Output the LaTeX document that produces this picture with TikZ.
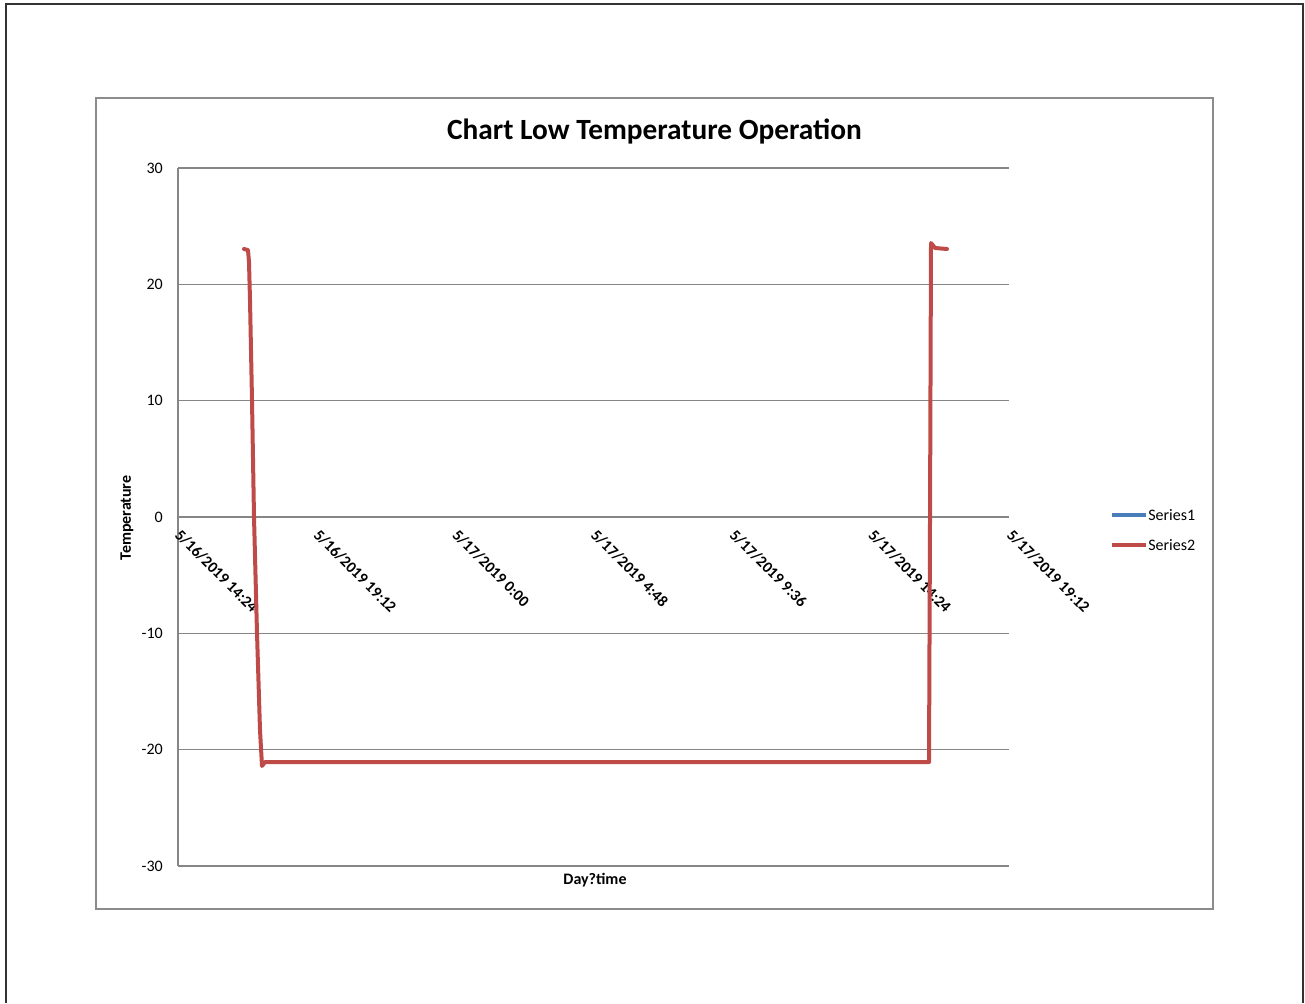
\documentclass[tikz,border=0pt]{standalone}
\usepackage{fontspec}
\setmainfont{Carlito}
\usetikzlibrary{positioning}
\definecolor{gridgray}{RGB}{134,134,134}
\definecolor{framegray}{RGB}{140,140,140}
\definecolor{seriesblue}{RGB}{74,126,187}
\definecolor{seriesred}{RGB}{190,75,72}
\tikzset{
  gridline/.style={draw=gridgray, line width=1.1pt},
  chartframe/.style={draw=framegray, line width=1.5pt},
  ticklabel/.style={font=\fontsize{12}{14}\selectfont, inner sep=0pt},
  datelabel/.style={font=\bfseries\fontsize{11.8}{14}\selectfont, inner sep=0pt, anchor=north west, rotate=-45},
  axistitle/.style={font=\bfseries\fontsize{12}{14}\selectfont, inner sep=0pt},
  seriesline/.style={line width=3pt, line cap=round, line join=round}
}

\begin{document}
\begin{tikzpicture}[x=0.75pt,y=-0.75pt]
\useasboundingbox (0,0) rectangle (1305,1003);
% page frame, open at the bottom
\draw[draw=black!80, line width=1.5pt] (6,1003) -- (6,4) -- (1303,4) -- (1303,1003);
% chart area
\draw[chartframe] (96,98) rectangle (1213,909);
\node[font=\bfseries\fontsize{22}{25}\selectfont, inner sep=0pt] (title) at (654.5,131) {Chart Low Temperature Operation};

% horizontal grid and values
\foreach \v in {30,20,10,0,-10,-20,-30}{
  \draw[gridline] (178,{517-11.633*\v}) -- (1009,{517-11.633*\v});
  \node[ticklabel, anchor=east] (ylab\v) at (163,{517-11.633*\v}) {\v};
}
\draw[gridline] (178,168) -- (178,866);

% dates along the zero line
\foreach \lab [count=\i from 0] in {{5/16/2019 14:24},{5/16/2019 19:12},{5/17/2019 0:00},{5/17/2019 4:48},{5/17/2019 9:36},{5/17/2019 14:24},{5/17/2019 19:12}}{
  \node[datelabel] (xlab\i) at ({182+138.67*\i},528) {\lab};
}

\node[axistitle, rotate=90] (ytitle) at (127,518) {Temperature};
\node[axistitle] (xtitle) at (595,880) {Day?time};

% Series2
\draw[seriesline, seriesred] (244,249) -- (248,250) -- (249,262) -- (250,300)
  -- (252,400) -- (254,517) -- (257,633) -- (260,730) -- (262,766) -- (265,762)
  -- (929,762) -- (930,520) -- (931,243) -- (935,248) -- (947,249);

% legend
\draw[seriesline, seriesblue, line cap=butt] (1112,515) -- (1146,515);
\node[ticklabel, anchor=west] (leg1) at (1148,515) {Series1};
\draw[seriesline, seriesred, line cap=butt] (1112,545) -- (1146,545);
\node[ticklabel, anchor=west] (leg2) at (1148,545) {Series2};
\end{tikzpicture}
\end{document}
